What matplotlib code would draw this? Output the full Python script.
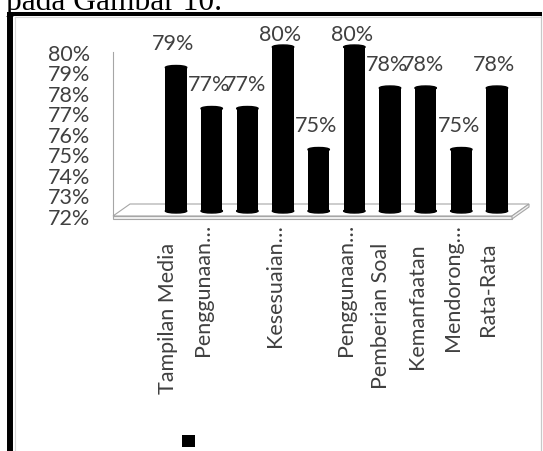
import matplotlib
matplotlib.use("Agg")
import matplotlib.pyplot as plt
from matplotlib.patches import Ellipse, Polygon
from matplotlib.lines import Line2D
from matplotlib.transforms import ScaledTranslation

# survey results per aspect
categories = ["Tampilan Media", "Penggunaan…", "", "Kesesuaian…", "",
              "Penggunaan…", "Pemberian Soal", "Kemanfaatan", "Mendorong…", "Rata-Rata"]
values = [79, 77, 77, 80, 75, 80, 78, 78, 75, 78]
yticks = [72, 73, 74, 75, 76, 77, 78, 79, 80]
ytick_labels = [f"{t}%" for t in yticks]

W, H = 543, 452
DPI = 100
TXT = "#404040"
GRID = "#a6a6a6"

fig = plt.figure(figsize=(W / DPI, H / DPI), dpi=DPI)
plt.rcParams["font.family"] = ["Lato", "DejaVu Sans"]

# front plane of the pseudo-3D plot
ax = fig.add_axes([113 / W, 1 - 217 / H, 399 / W, 164 / H])
ax.set_xlim(-1.53, 9.66)
ax.set_ylim(yticks[0], yticks[-1])
ax.patch.set_alpha(0)

ux = 399 / (9.66 + 1.53)          # pixels per category
uy = 164 / (yticks[-1] - yticks[0])  # pixels per percent


def shift(dx, dy):
    return ax.transData + ScaledTranslation(dx / DPI, dy / DPI, fig.dpi_scale_trans)


# floor slab
depth_x, depth_y = 17 / ux, 12 / uy
x0, x1 = ax.get_xlim()
y0 = yticks[0]
thick = 3 / uy
floor = Polygon([(x0, y0), (x1, y0), (x1 + depth_x, y0 + depth_y), (x0 + depth_x, y0 + depth_y)],
                closed=True, facecolor="white", edgecolor=GRID, lw=0.8, clip_on=False, zorder=1)
front = Polygon([(x0, y0), (x1, y0), (x1, y0 - thick), (x0, y0 - thick)],
                closed=True, facecolor="#f2f2f2", edgecolor=GRID, lw=0.8, clip_on=False, zorder=1)
side = Polygon([(x1, y0), (x1 + depth_x, y0 + depth_y), (x1 + depth_x, y0 + depth_y - thick), (x1, y0 - thick)],
               closed=True, facecolor="#f2f2f2", edgecolor=GRID, lw=0.8, clip_on=False, zorder=1)
for p in (floor, front, side):
    ax.add_patch(p)

# cylinder columns sitting half way into the floor
xs = list(range(len(values)))
bar_w = 0.6
bar_tr = shift(8.5, 5)
heights = [v - y0 for v in values]
bars = ax.bar(xs, heights, bottom=y0, width=bar_w, color="black",
              transform=bar_tr, clip_on=False, zorder=3)
cap_h = 4 / uy
for x, v in zip(xs, values):
    for yc in (v, y0):
        ax.add_patch(Ellipse((x, yc), bar_w, cap_h, color="black",
                             transform=bar_tr, clip_on=False, zorder=3))

# value labels
for x, v in zip(xs, values):
    up = 18 if v >= yticks[-1] else 29
    ax.text(x, v, f"{v}%", transform=shift(6, up), ha="center", va="center",
            fontsize=15.5, color=TXT, clip_on=False, zorder=4)

# category labels, rotated
for x, lab in zip(xs, categories):
    if not lab:
        continue
    drop = -7 if lab.endswith("…") else -26
    ax.text(x, y0, lab, transform=shift(0, drop), rotation=90, ha="center", va="top",
            fontsize=15.5, color=TXT, clip_on=False)

ax.set_xticks([])
ax.set_yticks(yticks)
ax.set_yticklabels(ytick_labels)
ax.tick_params(axis="y", length=0, pad=16.5, labelsize=15.5, labelcolor=TXT)
for s in ("top", "right", "bottom"):
    ax.spines[s].set_visible(False)
ax.spines["left"].set_color(GRID)
ax.spines["left"].set_linewidth(0.8)

# legend key with no text
fig.legend([bars], [""], loc="center", bbox_to_anchor=(188.5 / W, 1 - 442.5 / H),
           frameon=False, handlelength=0.95, handleheight=0.95, handletextpad=0,
           borderpad=0, fontsize=10)


def fx(px):
    return px / W


def fy(py):
    return 1 - py / H


# document text and cell borders around the chart
fig.text(fx(6), fy(10), "pada Gambar 10.", family="Liberation Serif", fontsize=22.7,
         va="baseline", ha="left")
fig.add_artist(Line2D([fx(15), fx(540.5)], [fy(18), fy(18)], color="#d9d9d9", lw=0.8))
fig.add_artist(Line2D([fx(15), fx(15)], [fy(18), fy(H)], color="#d9d9d9", lw=0.8))
fig.add_artist(Line2D([fx(540.5), fx(540.5)], [fy(17), fy(H)], color="#c8c8c8", lw=0.9))
fig.add_artist(Line2D([fx(7), fx(541.5)], [fy(14.5), fy(14.5)], color="black", lw=2.9,
                      solid_capstyle="butt"))
fig.add_artist(Line2D([fx(10), fx(10)], [fy(12.5), fy(H)], color="black", lw=4.3,
                      solid_capstyle="butt"))

fig.savefig("out.png", dpi=DPI)
